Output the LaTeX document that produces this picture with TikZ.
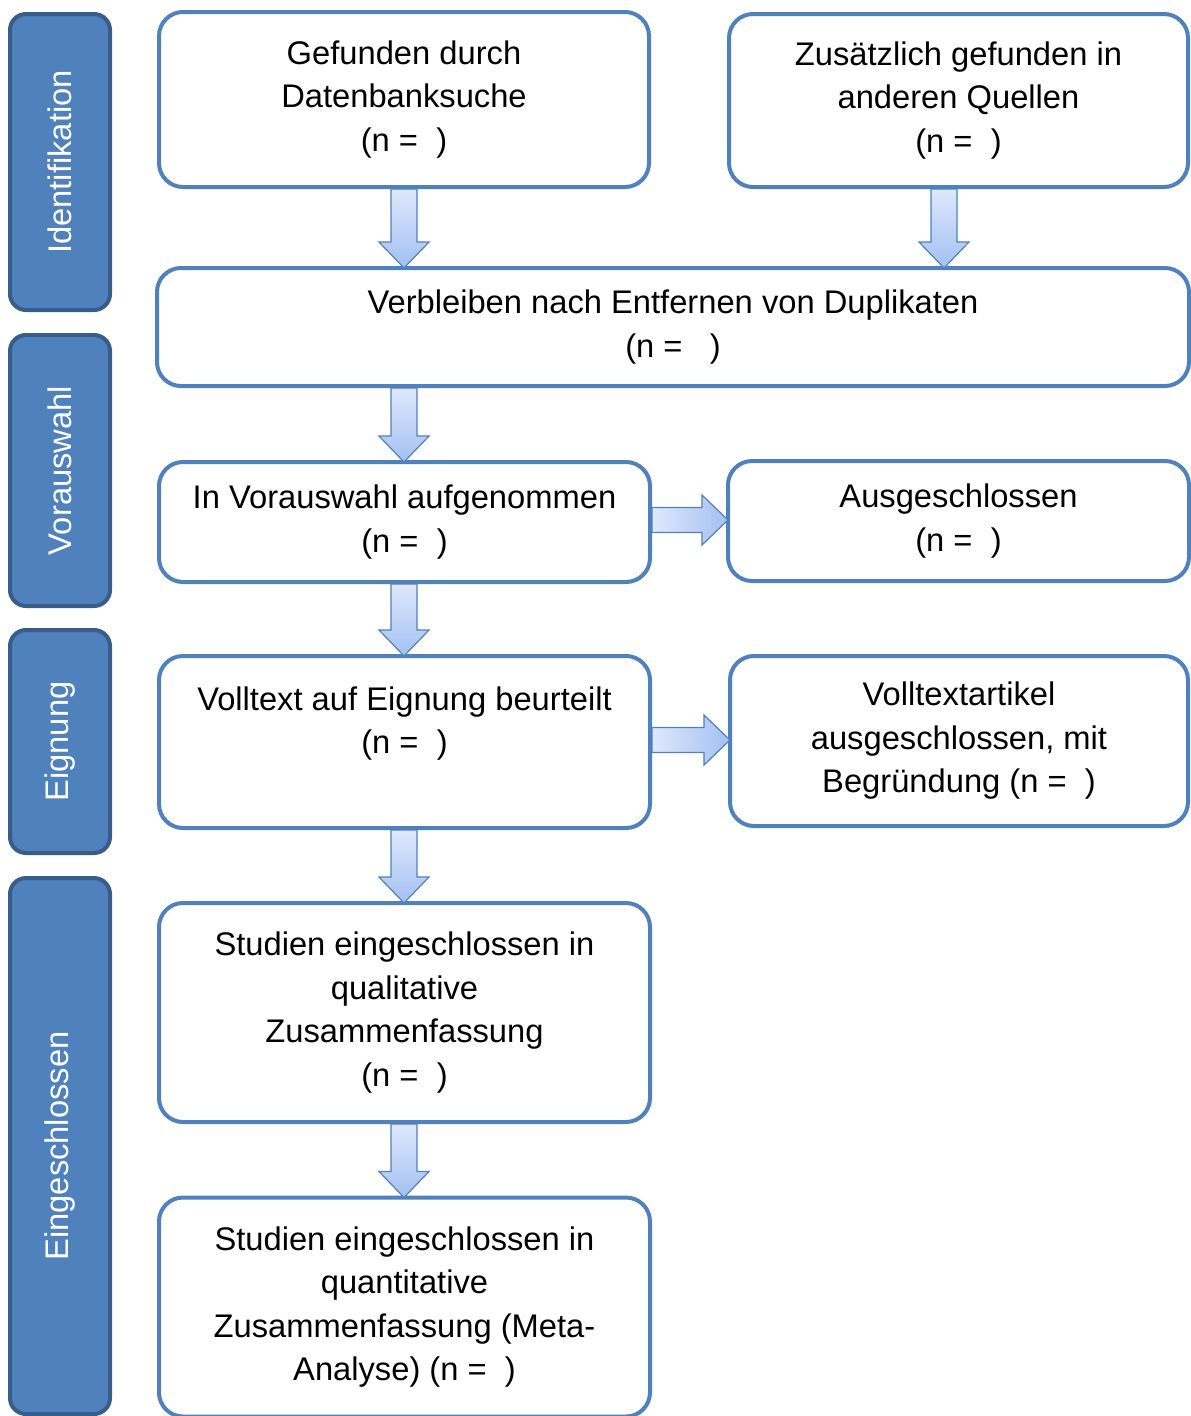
\documentclass[tikz,border=0pt]{standalone}
\usepackage{fontspec}
\setmainfont{Liberation Sans}
\usetikzlibrary{calc}

\definecolor{boxblue}{RGB}{79,129,189}
\definecolor{phaseblue}{RGB}{79,129,189}
\definecolor{phaseborder}{RGB}{56,93,138}
\definecolor{arrowlight}{RGB}{222,232,252}
\definecolor{arrowdark}{RGB}{163,192,242}
\newcommand\boxfont{\fontsize{32.7}{43.5}\selectfont}

\begin{document}
\begin{tikzpicture}[
            x=1pt, y=-1pt,
            box/.style={
                draw=boxblue,
                line width=4pt,
                rounded corners=24pt,
                fill=white,
                inner sep=0pt,
                font=\boxfont,
                align=center
            },
            phase/.style={
                draw=phaseborder,
                fill=phaseblue,
                line width=4pt,
                rounded corners=16pt,
                minimum height=100pt,
                text=white,
                font=\boxfont,
                rotate=90
            },
            downarrow/.style={
                draw=boxblue,
                line width=1.2pt,
                top color=arrowlight,
                bottom color=arrowdark
            },
            rightarrow/.style={
                draw=boxblue,
                line width=1.2pt,
                left color=arrowlight,
                right color=arrowdark
            }
        ]
            \useasboundingbox (0,0) rectangle (1191,1416);

            % phases on the left
            \foreach \name/\ypos/\len/\label in {
                ident/162/296/Identifikation,
                presel/470.5/271/Vorauswahl,
                elig/741.5/223/Eignung,
                incl/1146/536/Eingeschlossen
            } {
                \node[phase, minimum width=\len pt] (\name) at (60,\ypos) {\label};
            }

            % boxes
            \node[box, minimum width=490pt, minimum height=175pt] (found) at (404,99.5)
                {Gefunden durch\\Datenbanksuche\\(n = \ )};
            \node[box, minimum width=459pt, minimum height=173pt] (extra) at (958.5,100.5)
                {Zusätzlich gefunden in\\anderen Quellen\\(n = \ )};
            \node[box, minimum width=1032pt, minimum height=118pt] (dup) at (673,327)
                {Verbleiben nach Entfernen von Duplikaten\\(n = \ \ )};
            \node[box, minimum width=491pt, minimum height=120pt] (pre) at (404.5,522)
                {In Vorauswahl aufgenommen\\(n = \ )};
            \node[box, minimum width=461pt, minimum height=120pt] (excl) at (958.5,521)
                {Ausgeschlossen\\(n = \ )};
            \node[box, minimum width=491pt, minimum height=172pt] (full) at (404.5,742)
                {Volltext auf Eignung beurteilt\\(n = \ )\\\mbox{}};
            \node[box, minimum width=458pt, minimum height=170pt] (fullexcl) at (959,741)
                {Volltextartikel\\ausgeschlossen, mit\\Begründung (n = \ )};
            \node[box, minimum width=491pt, minimum height=219pt] (qual) at (404.5,1012.5)
                {Studien eingeschlossen in\\qualitative\\Zusammenfassung\\(n = \ )};
            \node[box, minimum width=491pt, minimum height=219pt] (quant) at (404.5,1307)
                {Studien eingeschlossen in\\quantitative\\Zusammenfassung (Meta-\\Analyse) (n = \ )};

            % block arrows downwards
            \foreach \from/\to/\xpos in {
                found/dup/404,
                extra/dup/944,
                dup/pre/404,
                pre/full/404,
                full/qual/404,
                qual/quant/404
            } {
                \path[downarrow] let \p1=(\xpos,0 |- \from.south), \p2=(\xpos,0 |- \to.north) in
                    (\x1-13pt,\y1) -- (\x1-13pt,\y2+24pt) -- (\x1-25pt,\y2+24pt) -- (\x1,\y2-2pt)
                    -- (\x1+25pt,\y2+24pt) -- (\x1+13pt,\y2+24pt) -- (\x1+13pt,\y1) -- cycle;
            }

            % block arrows to the right
            \foreach \from/\to in {pre/excl, full/fullexcl} {
                \path[rightarrow] let \p1=(\from.east), \p2=(\to.west) in
                    (\x1,\y1+14.5pt) -- (\x2-24pt,\y1+14.5pt) -- (\x2-24pt,\y1+27pt) -- (\x2+2pt,\y1+2pt)
                    -- (\x2-24pt,\y1-23pt) -- (\x2-24pt,\y1-10.5pt) -- (\x1,\y1-10.5pt) -- cycle;
            }
        \end{tikzpicture}
\end{document}
